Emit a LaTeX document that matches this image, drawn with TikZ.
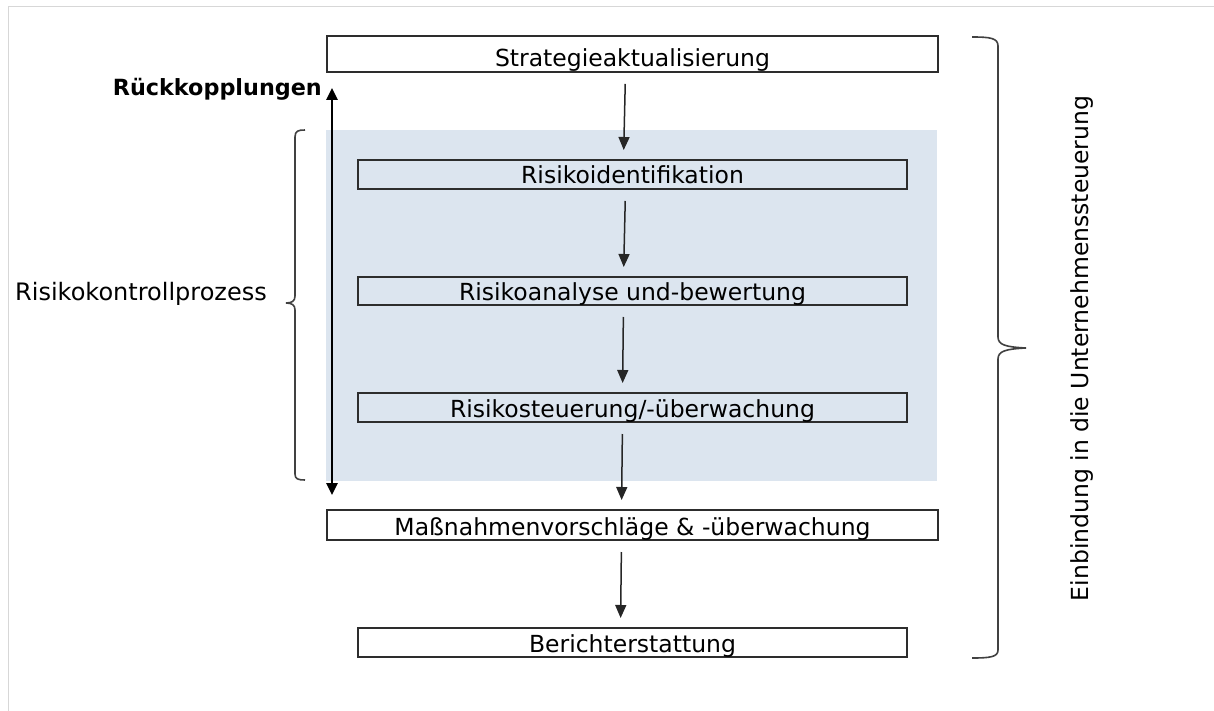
\documentclass[tikz,border=0pt]{standalone}
\usepackage{fontspec}
\setmainfont{DejaVu Sans}
\usepackage{tikz}
\usetikzlibrary{arrows.meta, positioning}
\definecolor{procblue}{RGB}{220,229,239}
\definecolor{boxline}{RGB}{45,45,45}
\definecolor{bracegray}{RGB}{65,65,65}
\definecolor{framegray}{RGB}{215,215,215}
\newcommand{\boxfont}{\fontsize{23.5}{28}\selectfont}
\tikzset{
  stepbox/.style  = {rectangle, draw=boxline, line width=1.6pt, outer sep=0pt,
                     inner xsep=4pt, inner ysep=0pt, minimum width=549pt,
                     text height=24pt, text depth=5pt, font=\boxfont},
  widebox/.style  = {stepbox, minimum width=611pt},
  sidelabel/.style = {inner sep=0pt, font=\boxfont},
  flow/.style     = {-{Triangle[length=13pt,width=11pt]}, line width=1.5pt,
                     draw=black!85, fill=black!85, shorten <=12pt, shorten >=10pt},
  feedback/.style = {{Triangle[length=12pt,width=11pt]}-{Triangle[length=12pt,width=11pt]},
                     line width=2.6pt},
  bracket/.style  = {draw=bracegray, line width=1.6pt},
}
\begin{document}
\begin{tikzpicture}[x=1pt, y=-1pt, node distance=88pt]
  \useasboundingbox (0,0) rectangle (1214,711);
  \draw[framegray, line width=1pt] (8,711) |- (1214,6.5);
  \fill[procblue] (326,130) rectangle (937,481);

  % process steps
  \node[widebox, text height=31pt] (strat) at (632.5,54) {Strategieaktualisierung};
  \node[stepbox, below=of strat] (ident) {Risikoidentifikation};
  \node[stepbox, below=of ident, text height=23pt] (anal) {Risikoanalyse und-bewertung};
  \node[stepbox, below=of anal] (steu) {Risikosteuerung/-überwachung};
  \node[widebox, below=of steu, text height=25pt] (mass) {Maßnahmenvorschläge \& -überwachung};
  \node[stepbox, below=of mass] (ber) {Berichterstattung};

  \draw[flow] ([xshift=-7pt]strat.south) -- ([xshift=-9pt]ident.north);
  \draw[flow] ([xshift=-7pt]ident.south) -- ([xshift=-9pt]anal.north);
  \draw[flow] ([xshift=-9pt]anal.south) -- ([xshift=-10pt]steu.north);
  \draw[flow] ([xshift=-10pt]steu.south) -- ([xshift=-11pt]mass.north);
  \draw[flow] ([xshift=-11pt]mass.south) -- ([xshift=-12pt]ber.north);

  % feedback and side labels
  \coordinate (fbtop) at (332,88);
  \coordinate (fbbot) at (332,495);
  \draw[feedback] (fbtop) -- (fbbot);
  \node[sidelabel, anchor=base east, font=\fontsize{22.3}{27}\selectfont\bfseries] (rueck) at (322,96) {Rückkopplungen};
  \node[sidelabel, anchor=base west, font=\fontsize{24}{28}\selectfont] (rkp) at (15,300) {Risikokontrollprozess};
  \node[sidelabel, rotate=90, anchor=base] (einb) at (1088,348.5) {Einbindung in die Unternehmenssteuerung};

  % braces
  \draw[bracket] (305,130) .. controls (298,130) and (295,131) .. (295,137) -- (295,296)
    .. controls (295,301) and (292,303) .. (286,303)
    .. controls (292,303) and (295,305) .. (295,310) -- (295,474)
    .. controls (295,479) and (298,480) .. (305,480);
  \draw[bracket] (972,37) .. controls (990,37) and (998,38) .. (998,46) -- (998,337)
    .. controls (998,345) and (1006,347) .. (1026,348)
    .. controls (1006,349) and (998,351) .. (998,359) -- (998,650)
    .. controls (998,657) and (990,658) .. (972,658);
\end{tikzpicture}
\end{document}
